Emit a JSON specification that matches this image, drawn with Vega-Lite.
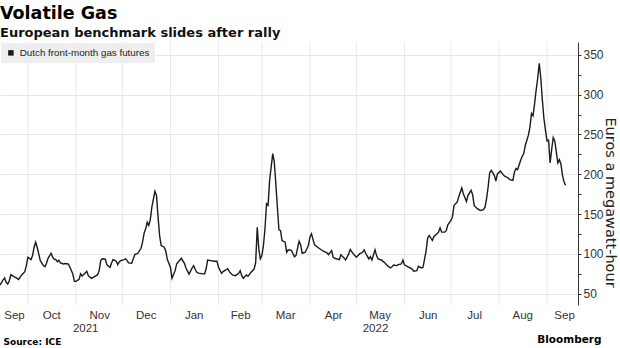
{
  "$schema": "https://vega.github.io/schema/vega-lite/v6.json",
  "width": 578,
  "height": 263,
  "autosize": {"type": "none"},
  "padding": {"left": 0, "top": 42, "right": 42, "bottom": 43},
  "background": "white",
  "title": {
    "text": "Volatile Gas",
    "subtitle": "European benchmark slides after rally",
    "anchor": "start",
    "frame": "group",
    "font": "DejaVu Sans",
    "fontSize": 17.5,
    "fontWeight": "bold",
    "color": "#000000",
    "subtitleFont": "DejaVu Sans",
    "subtitleFontSize": 13,
    "subtitleFontWeight": "bold",
    "subtitleColor": "#111111",
    "subtitlePadding": 4,
    "offset": 2
  },
  "config": {
    "view": {"stroke": null},
    "axis": {"labelFont": "Liberation Sans", "labelColor": "#333333"}
  },
  "datasets": {
    "months": [
      {"month": "2021-10-01"}, {"month": "2021-11-01"}, {"month": "2021-12-01"},
      {"month": "2022-01-01"}, {"month": "2022-02-01"}, {"month": "2022-03-01"},
      {"month": "2022-04-01"}, {"month": "2022-05-01"}, {"month": "2022-06-01"},
      {"month": "2022-07-01"}, {"month": "2022-08-01"}, {"month": "2022-09-01"}
    ],
    "gas": [
      {"date": "2021-09-13", "price": 61},
      {"date": "2021-09-15", "price": 67.5},
      {"date": "2021-09-16", "price": 70},
      {"date": "2021-09-17", "price": 64.4},
      {"date": "2021-09-18", "price": 62.4},
      {"date": "2021-09-19", "price": 66.5},
      {"date": "2021-09-20", "price": 74},
      {"date": "2021-09-22", "price": 71.6},
      {"date": "2021-09-24", "price": 69.4},
      {"date": "2021-09-25", "price": 68},
      {"date": "2021-09-27", "price": 73.7},
      {"date": "2021-09-29", "price": 77.9},
      {"date": "2021-09-30", "price": 85.4},
      {"date": "2021-10-01", "price": 95.9},
      {"date": "2021-10-03", "price": 93},
      {"date": "2021-10-04", "price": 98},
      {"date": "2021-10-05", "price": 108.5},
      {"date": "2021-10-06", "price": 114.8},
      {"date": "2021-10-07", "price": 108.5},
      {"date": "2021-10-08", "price": 100.1},
      {"date": "2021-10-09", "price": 91.7},
      {"date": "2021-10-11", "price": 85.4},
      {"date": "2021-10-12", "price": 84},
      {"date": "2021-10-13", "price": 88.3},
      {"date": "2021-10-14", "price": 94.6},
      {"date": "2021-10-16", "price": 100.9},
      {"date": "2021-10-17", "price": 95.9},
      {"date": "2021-10-18", "price": 93.4},
      {"date": "2021-10-19", "price": 93},
      {"date": "2021-10-20", "price": 90.4},
      {"date": "2021-10-21", "price": 92.1},
      {"date": "2021-10-22", "price": 88.8},
      {"date": "2021-10-24", "price": 87.5},
      {"date": "2021-10-25", "price": 88},
      {"date": "2021-10-27", "price": 87.5},
      {"date": "2021-10-28", "price": 84},
      {"date": "2021-10-30", "price": 74.8},
      {"date": "2021-10-31", "price": 65.6},
      {"date": "2021-11-01", "price": 65.6},
      {"date": "2021-11-03", "price": 68.2},
      {"date": "2021-11-04", "price": 75},
      {"date": "2021-11-05", "price": 72.4},
      {"date": "2021-11-07", "price": 76.2},
      {"date": "2021-11-08", "price": 78.3},
      {"date": "2021-11-09", "price": 72.8},
      {"date": "2021-11-11", "price": 69.5},
      {"date": "2021-11-13", "price": 71.6},
      {"date": "2021-11-15", "price": 74},
      {"date": "2021-11-16", "price": 79.1},
      {"date": "2021-11-17", "price": 91.7},
      {"date": "2021-11-18", "price": 93.9},
      {"date": "2021-11-20", "price": 93.4},
      {"date": "2021-11-21", "price": 86.3},
      {"date": "2021-11-23", "price": 83.3},
      {"date": "2021-11-24", "price": 88.8},
      {"date": "2021-11-25", "price": 93},
      {"date": "2021-11-27", "price": 90.9},
      {"date": "2021-11-28", "price": 86.7},
      {"date": "2021-11-29", "price": 90.4},
      {"date": "2021-11-30", "price": 91.7},
      {"date": "2021-12-02", "price": 93},
      {"date": "2021-12-03", "price": 93.9},
      {"date": "2021-12-04", "price": 91.7},
      {"date": "2021-12-05", "price": 88.8},
      {"date": "2021-12-07", "price": 88.3},
      {"date": "2021-12-08", "price": 93.9},
      {"date": "2021-12-09", "price": 99.3},
      {"date": "2021-12-11", "price": 100.9},
      {"date": "2021-12-13", "price": 107.2},
      {"date": "2021-12-14", "price": 114.8},
      {"date": "2021-12-15", "price": 126.1},
      {"date": "2021-12-16", "price": 131.6},
      {"date": "2021-12-17", "price": 140},
      {"date": "2021-12-18", "price": 135.8},
      {"date": "2021-12-19", "price": 143},
      {"date": "2021-12-20", "price": 158.8},
      {"date": "2021-12-22", "price": 178.6},
      {"date": "2021-12-23", "price": 173.6},
      {"date": "2021-12-24", "price": 146.3},
      {"date": "2021-12-25", "price": 123.2},
      {"date": "2021-12-26", "price": 110.6},
      {"date": "2021-12-28", "price": 108.5},
      {"date": "2021-12-29", "price": 103.4},
      {"date": "2021-12-30", "price": 93},
      {"date": "2022-01-01", "price": 83.3},
      {"date": "2022-01-02", "price": 69.5},
      {"date": "2022-01-04", "price": 79.1},
      {"date": "2022-01-05", "price": 87.5},
      {"date": "2022-01-08", "price": 94.6},
      {"date": "2022-01-10", "price": 88.3},
      {"date": "2022-01-11", "price": 82.5},
      {"date": "2022-01-13", "price": 74.8},
      {"date": "2022-01-15", "price": 82.5},
      {"date": "2022-01-16", "price": 85.4},
      {"date": "2022-01-17", "price": 80.5},
      {"date": "2022-01-18", "price": 77.1},
      {"date": "2022-01-19", "price": 76},
      {"date": "2022-01-23", "price": 74.8},
      {"date": "2022-01-24", "price": 81.1},
      {"date": "2022-01-25", "price": 92.4},
      {"date": "2022-01-27", "price": 91.7},
      {"date": "2022-01-29", "price": 90.9},
      {"date": "2022-01-31", "price": 90.9},
      {"date": "2022-02-01", "price": 83.3},
      {"date": "2022-02-03", "price": 75.8},
      {"date": "2022-02-04", "price": 77.9},
      {"date": "2022-02-07", "price": 81.6},
      {"date": "2022-02-08", "price": 77.9},
      {"date": "2022-02-10", "price": 73.7},
      {"date": "2022-02-12", "price": 72.8},
      {"date": "2022-02-14", "price": 75.8},
      {"date": "2022-02-15", "price": 79.1},
      {"date": "2022-02-16", "price": 72.8},
      {"date": "2022-02-17", "price": 69.5},
      {"date": "2022-02-19", "price": 73.7},
      {"date": "2022-02-20", "price": 72},
      {"date": "2022-02-22", "price": 77.1},
      {"date": "2022-02-24", "price": 81.1},
      {"date": "2022-02-25", "price": 89.5},
      {"date": "2022-02-26", "price": 133.6},
      {"date": "2022-02-27", "price": 106.4},
      {"date": "2022-02-28", "price": 93.9},
      {"date": "2022-03-01", "price": 98},
      {"date": "2022-03-02", "price": 110.6},
      {"date": "2022-03-03", "price": 131.6},
      {"date": "2022-03-04", "price": 163.1},
      {"date": "2022-03-05", "price": 161},
      {"date": "2022-03-06", "price": 192.4},
      {"date": "2022-03-08", "price": 226},
      {"date": "2022-03-09", "price": 215.5},
      {"date": "2022-03-10", "price": 188.3},
      {"date": "2022-03-11", "price": 158.8},
      {"date": "2022-03-12", "price": 130.4},
      {"date": "2022-03-13", "price": 129.5},
      {"date": "2022-03-14", "price": 116.9},
      {"date": "2022-03-16", "price": 114.8},
      {"date": "2022-03-17", "price": 102.2},
      {"date": "2022-03-18", "price": 105.2},
      {"date": "2022-03-20", "price": 104.6},
      {"date": "2022-03-22", "price": 96.7},
      {"date": "2022-03-23", "price": 98},
      {"date": "2022-03-25", "price": 116},
      {"date": "2022-03-26", "price": 111.7},
      {"date": "2022-03-27", "price": 100.9},
      {"date": "2022-03-29", "price": 102.2},
      {"date": "2022-03-31", "price": 110.6},
      {"date": "2022-04-01", "price": 121.1},
      {"date": "2022-04-02", "price": 125.3},
      {"date": "2022-04-04", "price": 111.5},
      {"date": "2022-04-06", "price": 108.5},
      {"date": "2022-04-08", "price": 105.6},
      {"date": "2022-04-10", "price": 103.4},
      {"date": "2022-04-12", "price": 101.4},
      {"date": "2022-04-13", "price": 99.3},
      {"date": "2022-04-15", "price": 104.3},
      {"date": "2022-04-16", "price": 95.9},
      {"date": "2022-04-17", "price": 94.6},
      {"date": "2022-04-20", "price": 93},
      {"date": "2022-04-21", "price": 98.9},
      {"date": "2022-04-23", "price": 95.1},
      {"date": "2022-04-24", "price": 92.5},
      {"date": "2022-04-26", "price": 100.1},
      {"date": "2022-04-27", "price": 105.6},
      {"date": "2022-04-29", "price": 100.1},
      {"date": "2022-04-30", "price": 98},
      {"date": "2022-05-01", "price": 95.9},
      {"date": "2022-05-03", "price": 100.1},
      {"date": "2022-05-05", "price": 102.2},
      {"date": "2022-05-06", "price": 105.2},
      {"date": "2022-05-07", "price": 100.9},
      {"date": "2022-05-09", "price": 93.9},
      {"date": "2022-05-10", "price": 96.7},
      {"date": "2022-05-11", "price": 92.5},
      {"date": "2022-05-13", "price": 105.2},
      {"date": "2022-05-14", "price": 98},
      {"date": "2022-05-15", "price": 93.9},
      {"date": "2022-05-17", "price": 92.5},
      {"date": "2022-05-19", "price": 89.5},
      {"date": "2022-05-21", "price": 85.4},
      {"date": "2022-05-23", "price": 82.5},
      {"date": "2022-05-24", "price": 84},
      {"date": "2022-05-25", "price": 86.1},
      {"date": "2022-05-27", "price": 85.4},
      {"date": "2022-05-28", "price": 86.7},
      {"date": "2022-05-30", "price": 87.5},
      {"date": "2022-05-31", "price": 92.5},
      {"date": "2022-06-01", "price": 86.5},
      {"date": "2022-06-04", "price": 83.3},
      {"date": "2022-06-06", "price": 81.1},
      {"date": "2022-06-07", "price": 78.3},
      {"date": "2022-06-09", "price": 79.1},
      {"date": "2022-06-10", "price": 84.6},
      {"date": "2022-06-12", "price": 82.5},
      {"date": "2022-06-13", "price": 83.3},
      {"date": "2022-06-15", "price": 104.3},
      {"date": "2022-06-16", "price": 120.3},
      {"date": "2022-06-17", "price": 123.2},
      {"date": "2022-06-19", "price": 116.9},
      {"date": "2022-06-20", "price": 122},
      {"date": "2022-06-22", "price": 125.3},
      {"date": "2022-06-23", "price": 127.4},
      {"date": "2022-06-24", "price": 132.9},
      {"date": "2022-06-25", "price": 127.4},
      {"date": "2022-06-27", "price": 127.4},
      {"date": "2022-06-28", "price": 129.5},
      {"date": "2022-06-29", "price": 136.7},
      {"date": "2022-07-01", "price": 142.1},
      {"date": "2022-07-02", "price": 147.1},
      {"date": "2022-07-03", "price": 161},
      {"date": "2022-07-05", "price": 165.1},
      {"date": "2022-07-06", "price": 171.4},
      {"date": "2022-07-08", "price": 182.8},
      {"date": "2022-07-09", "price": 175.7},
      {"date": "2022-07-11", "price": 166},
      {"date": "2022-07-12", "price": 173.6},
      {"date": "2022-07-14", "price": 179.9},
      {"date": "2022-07-15", "price": 174.4},
      {"date": "2022-07-16", "price": 161},
      {"date": "2022-07-18", "price": 156.8},
      {"date": "2022-07-20", "price": 154.7},
      {"date": "2022-07-22", "price": 155.6},
      {"date": "2022-07-23", "price": 158.8},
      {"date": "2022-07-24", "price": 169.4},
      {"date": "2022-07-25", "price": 184},
      {"date": "2022-07-26", "price": 201.9},
      {"date": "2022-07-27", "price": 205},
      {"date": "2022-07-29", "price": 198.7},
      {"date": "2022-07-30", "price": 191.6},
      {"date": "2022-07-31", "price": 200.5},
      {"date": "2022-08-02", "price": 204},
      {"date": "2022-08-04", "price": 198.7},
      {"date": "2022-08-05", "price": 197.5},
      {"date": "2022-08-07", "price": 195.4},
      {"date": "2022-08-08", "price": 193.3},
      {"date": "2022-08-10", "price": 192.4},
      {"date": "2022-08-11", "price": 202.9},
      {"date": "2022-08-12", "price": 207.2},
      {"date": "2022-08-13", "price": 205.9},
      {"date": "2022-08-15", "price": 217.6},
      {"date": "2022-08-16", "price": 222.7},
      {"date": "2022-08-17", "price": 226},
      {"date": "2022-08-18", "price": 236.5},
      {"date": "2022-08-19", "price": 242.8},
      {"date": "2022-08-20", "price": 249.1},
      {"date": "2022-08-21", "price": 259.6},
      {"date": "2022-08-22", "price": 276.4},
      {"date": "2022-08-23", "price": 273.4},
      {"date": "2022-08-24", "price": 289},
      {"date": "2022-08-25", "price": 305.8},
      {"date": "2022-08-26", "price": 320.5},
      {"date": "2022-08-27", "price": 339.4},
      {"date": "2022-08-28", "price": 320.5},
      {"date": "2022-08-29", "price": 293.2},
      {"date": "2022-08-30", "price": 270.1},
      {"date": "2022-08-31", "price": 255.4},
      {"date": "2022-09-01", "price": 241.9},
      {"date": "2022-09-02", "price": 242.8},
      {"date": "2022-09-03", "price": 214.2},
      {"date": "2022-09-04", "price": 231.1},
      {"date": "2022-09-05", "price": 246.2},
      {"date": "2022-09-06", "price": 241.9},
      {"date": "2022-09-07", "price": 228.1},
      {"date": "2022-09-08", "price": 214.2},
      {"date": "2022-09-09", "price": 218.5},
      {"date": "2022-09-10", "price": 212.6},
      {"date": "2022-09-11", "price": 198.7},
      {"date": "2022-09-12", "price": 190.3},
      {"date": "2022-09-13", "price": 186.2}
    ]
  },
  "layer": [
    {
      "data": {"name": "months"},
      "mark": {"type": "rule", "color": "#e8e8e8", "strokeWidth": 1},
      "encoding": {
        "x": {
          "field": "month",
          "type": "temporal",
          "axis": {
            "orient": "bottom",
            "values": [{"year": 2021, "month": 11, "date": 7}, {"year": 2022, "month": 5, "date": 13}],
            "format": "%Y",
            "ticks": false,
            "domain": false,
            "grid": false,
            "labelOverlap": false,
            "labelFontSize": 11.5,
            "labelPadding": 17,
            "labelBaseline": "top",
            "title": "Bloomberg",
            "titleFont": "DejaVu Sans",
            "titleFontSize": 10.5,
            "titleFontWeight": "bold",
            "titleColor": "#000000",
            "titleAlign": "right",
            "titleBaseline": "middle",
            "titleX": 601,
            "titleY": 34
          }
        }
      }
    },
    {
      "data": {"name": "gas"},
      "mark": {"type": "line", "strokeWidth": 1.4},
      "encoding": {
        "x": {
          "field": "date",
          "type": "temporal",
          "scale": {"domain": [{"year": 2021, "month": 9, "date": 13}, {"year": 2022, "month": 9, "date": 21}]},
          "axis": {
            "orient": "bottom",
            "values": [
              {"year": 2021, "month": 9, "date": 22}, {"year": 2021, "month": 10, "date": 16},
              {"year": 2021, "month": 11, "date": 16}, {"year": 2021, "month": 12, "date": 16},
              {"year": 2022, "month": 1, "date": 16}, {"year": 2022, "month": 2, "date": 15},
              {"year": 2022, "month": 3, "date": 16}, {"year": 2022, "month": 4, "date": 16},
              {"year": 2022, "month": 5, "date": 16}, {"year": 2022, "month": 6, "date": 16},
              {"year": 2022, "month": 7, "date": 16}, {"year": 2022, "month": 8, "date": 16},
              {"year": 2022, "month": 9, "date": 12}
            ],
            "format": "%b",
            "ticks": false,
            "domain": false,
            "grid": false,
            "labelOverlap": false,
            "labelFontSize": 11.5,
            "labelPadding": 4,
            "title": "Source: ICE",
            "titleFont": "DejaVu Sans",
            "titleFontSize": 9,
            "titleFontWeight": "bold",
            "titleColor": "#000000",
            "titleAlign": "left",
            "titleBaseline": "middle",
            "titleX": 3,
            "titleY": 36
          }
        },
        "y": {
          "field": "price",
          "type": "quantitative",
          "scale": {"domain": [36, 366], "nice": false, "zero": false},
          "axis": {
            "orient": "right",
            "values": [50, 75, 100, 125, 150, 175, 200, 225, 250, 275, 300, 325, 350],
            "labelExpr": "datum.value % 50 === 0 ? datum.label : ''",
            "labelOverlap": false,
            "labelFontSize": 12,
            "labelPadding": 2,
            "tickSize": 3,
            "tickColor": "#333333",
            "domainColor": "#333333",
            "gridColor": "#e6e6e6",
            "gridOpacity": {"condition": {"test": "datum.value % 50 === 0", "value": 1}, "value": 0},
            "title": "Euros a megawatt-hour",
            "titleFont": "DejaVu Sans",
            "titleFontSize": 14.5,
            "titleFontWeight": "normal",
            "titleColor": "#222222",
            "titleAngle": 90,
            "titleAlign": "center",
            "titleBaseline": "middle",
            "titleX": 31,
            "titleY": 160
          }
        },
        "color": {
          "datum": "Dutch front-month gas futures",
          "type": "nominal",
          "scale": {"range": ["#1a1a1a"]},
          "legend": {
            "orient": "top-left",
            "offset": 1,
            "title": null,
            "fillColor": "#eeeeee",
            "padding": 5,
            "symbolType": "square",
            "symbolSize": 30,
            "symbolFillColor": "#1a1a1a",
            "symbolStrokeWidth": 0,
            "labelFont": "Liberation Sans",
            "labelFontSize": 9.8,
            "labelColor": "#222222",
            "labelOffset": 4
          }
        }
      }
    }
  ],
  "resolve": {"axis": {"x": "independent"}}
}
